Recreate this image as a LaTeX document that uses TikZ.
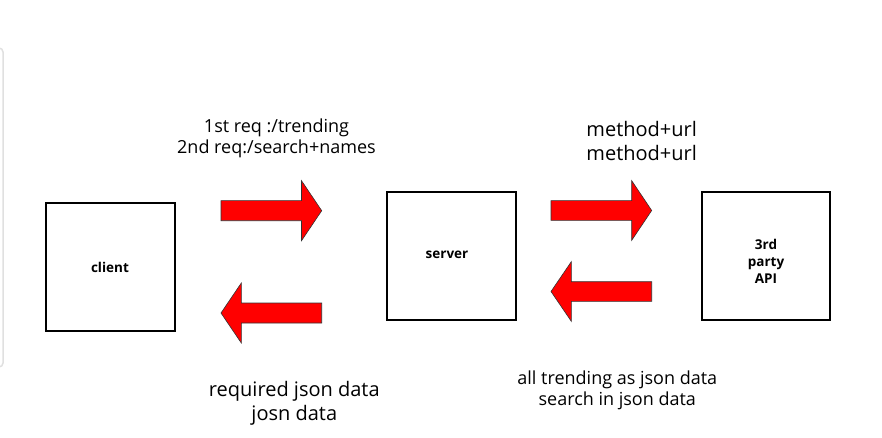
\documentclass[tikz,border=0pt]{standalone}
\usepackage{fontspec}
\setmainfont{Open Sans}
\begin{document}
\begin{tikzpicture}[x=1pt,y=-1pt,
  box/.style={draw=black,line width=1.2pt,fill=white},
  boxlabel/.style={font=\bfseries\fontsize{13.5}{17}\selectfont,align=center,inner sep=0pt},
  bigarrow/.style={fill=red,draw=black!80,line width=0.6pt,line join=miter},
  lbls/.style={font=\fontsize{18}{21.6}\selectfont,align=center,text=black,inner sep=0pt},
  lblb/.style={font=\fontsize{20}{23.3}\selectfont,align=center,text=black,inner sep=0pt},
  panel/.style={draw=black!12,line width=1.5pt,rounded corners=4pt}]
\useasboundingbox (0,0) rectangle (882,438);
% faint panel edge at left
\draw[panel] (-10,48) -- (3,48) -- (3,367) -- (-10,367);
% boxes
\draw[box] (46,203) rectangle (175,331);
\draw[box] (387,192) rectangle (516,320);
\draw[box] (702,192) rectangle (830,320);
\node[boxlabel] (client) at (110,267) {client};
\node[boxlabel] (server) at (447,255) {server};
\node[boxlabel] (api) at (766,261) {3rd\\party\\API};
% arrows
\draw[bigarrow] (221,200.7) -- (301.5,200.7) -- (301.5,180.7) -- (321.7,210.7) -- (301.5,240.7) -- (301.5,220.7) -- (221,220.7) -- cycle;
\draw[bigarrow] (321.7,303) -- (241.3,303) -- (241.3,283) -- (221,313) -- (241.3,343) -- (241.3,323) -- (321.7,323) -- cycle;
\draw[bigarrow] (551,200.7) -- (631.7,200.7) -- (631.7,180.7) -- (651.7,210.5) -- (631.7,240.3) -- (631.7,220.3) -- (551,220.3) -- cycle;
\draw[bigarrow] (651.7,281.7) -- (571.3,281.7) -- (571.3,261.7) -- (551,291.5) -- (571.3,321.3) -- (571.3,301.3) -- (651.7,301.3) -- cycle;
% labels
\node[lbls] (req) at (276.5,138.5) {1st req :/trending\\2nd req:/search+names};
\node[lblb] (meth) at (641.7,141) {method+url\\method+url};
\node[lblb] (resp) at (294.3,403.3) {required json data\\josn data};
\node[lbls] (json) at (617.3,390.5) {all trending as json data\\search in json data};
\end{tikzpicture}
\end{document}
